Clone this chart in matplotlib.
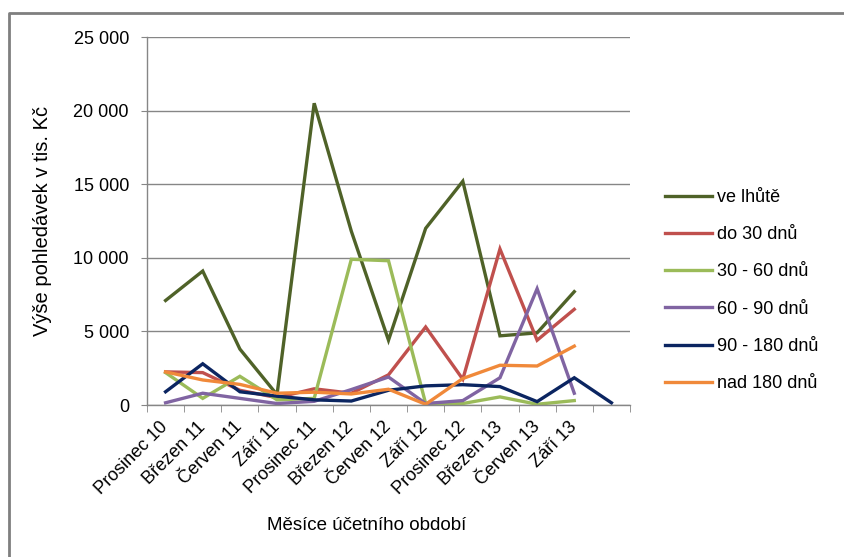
import numpy as np
import matplotlib
matplotlib.use('Agg')
import matplotlib.pyplot as plt
from matplotlib.lines import Line2D
from matplotlib.ticker import FuncFormatter, FixedLocator

plt.rcParams['font.family'] = ['Liberation Sans', 'DejaVu Sans']

# quarterly months of the accounting period (last slot has no label)
months = ['Prosinec 10', 'Březen 11', 'Červen 11', 'Září 11', 'Prosinec 11',
          'Březen 12', 'Červen 12', 'Září 12', 'Prosinec 12', 'Březen 13',
          'Červen 13', 'Září 13', '']

nan = np.nan
ve_lhute = [7100, 9100, 3800, 700, 20500, 11800, 4400, 12000, 15200, 4700, 4900, 7700, nan]
do_30 = [2250, 2200, 1000, 500, 1100, 800, 2050, 5300, 1750, 10600, 4400, 6500, nan]
d30_60 = [2200, 450, 1950, 350, 450, 9900, 9800, 100, 100, 550, 50, 300, nan]
d60_90 = [150, 800, 450, 100, 250, 1050, 1900, 100, 300, 1850, 7900, 800, nan]
d90_180 = [900, 2800, 900, 600, 350, 270, 1000, 1300, 1380, 1250, 230, 1850, 150]
nad_180 = [2250, 1700, 1400, 800, 870, 750, 1070, 50, 1800, 2700, 2650, 4000, nan]

series = [
    ('ve lhůtě', ve_lhute, '#4F6228'),
    ('do 30 dnů', do_30, '#C0504D'),
    ('30 - 60 dnů', d30_60, '#9BBB59'),
    ('60 - 90 dnů', d60_90, '#8064A2'),
    ('90 - 180 dnů', d90_180, '#0B2561'),
    ('nad 180 dnů', nad_180, '#F0893A'),
]

fig = plt.figure(figsize=(8.44, 5.57), dpi=100)
ax = fig.add_axes([147 / 844, 1 - 405 / 557, (630 - 147) / 844, (405 - 37) / 557])

x = np.arange(len(months))
for name, vals, col in series:
    ax.plot(x, vals, color=col, lw=2.4, label=name, solid_joinstyle='miter')

grey = '#868686'
ax.set_xlim(-0.5, len(months) - 0.5)
ax.set_ylim(0, 25000)
ax.set_yticks(np.arange(0, 25001, 5000))
ax.yaxis.set_major_formatter(FuncFormatter(lambda v, p: '{:,.0f}'.format(v).replace(',', ' ')))
ax.grid(axis='y', color=grey, lw=1)
ax.set_axisbelow(True)

for s in ['top', 'right']:
    ax.spines[s].set_visible(False)
for s in ['left', 'bottom']:
    ax.spines[s].set_color(grey)
    ax.spines[s].set_linewidth(1)

ax.set_xticks(x)
ax.set_xticklabels(months, rotation=45, ha='right', va='center', rotation_mode='anchor')
ax.xaxis.set_minor_locator(FixedLocator(np.arange(-0.5, len(months), 1.0)))
ax.tick_params(axis='x', which='major', length=0, pad=14, labelsize=13, colors='black')
ax.tick_params(axis='x', which='minor', length=5, color=grey, direction='out')
ax.tick_params(axis='y', length=4, color=grey, pad=9, labelsize=13)

fig.text(367 / 844, 1 - 525 / 557, 'Měsíce účetního období', ha='center', va='center', fontsize=13.5)
fig.text(43 / 844, 1 - 221 / 557, 'Výše pohledávek v tis. Kč', ha='center', va='center',
         rotation=90, fontsize=14.5)

ax.legend(loc='upper left', bbox_to_anchor=(665 / 844, 1 - 189 / 557),
          bbox_transform=fig.transFigure, frameon=False, fontsize=13,
          borderpad=0, borderaxespad=0, handlelength=2.6, handletextpad=0.3,
          labelspacing=1.12)

# outer chart frame: a polyline running off the bottom and right of the image
fx, fy = 9 / 844, 1 - 13 / 557
fig.add_artist(Line2D([fx, fx, 1.2], [-0.2, fy, fy], transform=fig.transFigure,
                      color='#7F7F7F', lw=2))

fig.savefig('out.png', dpi=100)
